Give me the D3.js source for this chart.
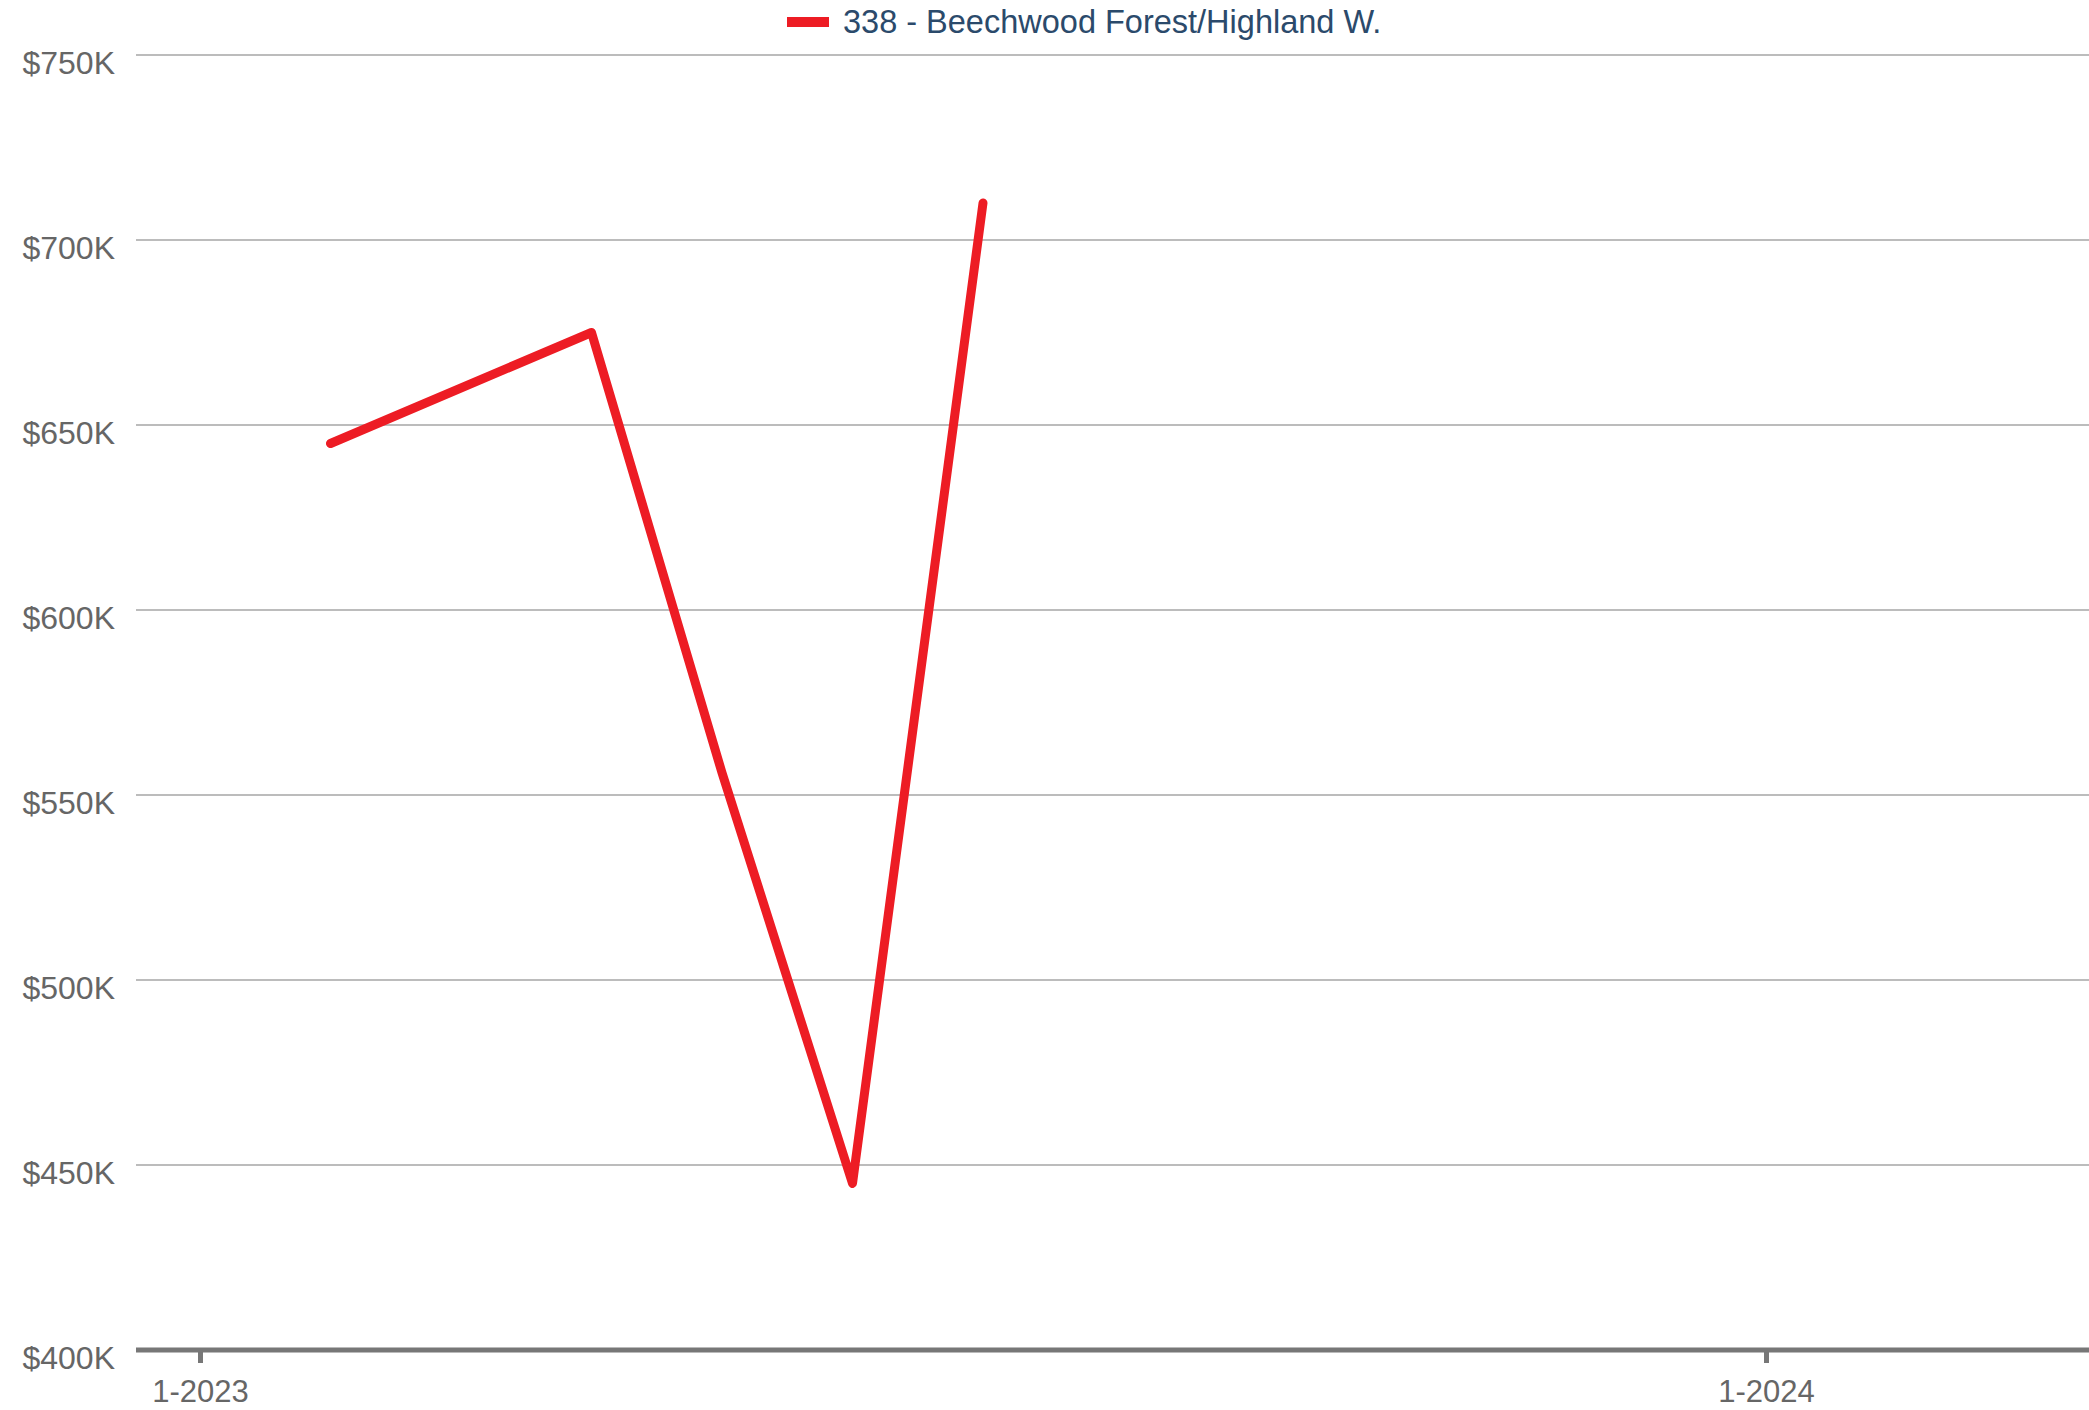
<!DOCTYPE html>
<html>
<head>
<meta charset="utf-8">
<script src="https://cdn.jsdelivr.net/npm/d3@7"></script>
<style>
  body { margin: 0; background: #fff; }
  svg { display: block; font-family: "Liberation Sans", Arial, sans-serif; }
</style>
</head>
<body>
<div id="chart"></div>
<script>
// data
const seriesName = "338 - Beechwood Forest/Highland W.";
const months = ["2023-02", "2023-04", "2023-05", "2023-06", "2023-07"];
const prices = [645000, 675000, 556000, 445000, 710000];
const yTicks = [400000, 450000, 500000, 550000, 600000, 650000, 700000, 750000];
const xTicks = ["2023-01", "2024-01"];

const width = 2089, height = 1410;
const plotLeft = 136, plotRight = 2089;

// month index from Jan 2023
const monthIndex = s => {
    const [y, m] = s.split("-").map(Number);
    return (y - 2023) * 12 + (m - 1);
};

const x = d3.scaleLinear().domain([0, 12]).range([200, 1766]);
const y = d3.scaleLinear().domain([400000, 750000]).range([1350, 55]);

const svg = d3.create("svg")
    .attr("width", width)
    .attr("height", height);

// gridlines
svg.append("g")
    .selectAll("line")
    .data(yTicks.filter(d => d > 400000))
    .join("line")
    .attr("x1", plotLeft)
    .attr("x2", plotRight)
    .attr("y1", d => y(d))
    .attr("y2", d => y(d))
    .attr("stroke", "#bcbcbc")
    .attr("stroke-width", 2);

// y labels
svg.append("g")
    .selectAll("text")
    .data(yTicks)
    .join("text")
    .attr("x", 115)
    .attr("y", d => y(d) + 19)
    .attr("text-anchor", "end")
    .attr("fill", "#666")
    .style("font-size", "32px")
    .text(d => "$" + d3.format("d")(d / 1000) + "K");

// x axis
const xAxis = d3.axisBottom(x)
    .tickValues(xTicks.map(monthIndex))
    .tickSize(13)
    .tickPadding(17)
    .tickFormat(i => `${(i % 12) + 1}-${2023 + Math.floor(i / 12)}`);

const gx = svg.append("g")
    .attr("transform", `translate(0,1350)`)
    .call(xAxis);
gx.select(".domain").remove();
gx.selectAll(".tick line").attr("stroke", "#777").attr("stroke-width", 5);
gx.selectAll(".tick text")
    .attr("fill", "#666")
    .style("font-size", "31px")
    .style("font-family", "Liberation Sans, Arial, sans-serif");
gx.append("line")
    .attr("x1", plotLeft)
    .attr("x2", plotRight)
    .attr("y1", 0)
    .attr("y2", 0)
    .attr("stroke", "#777")
    .attr("stroke-width", 5);

// series line
const line = d3.line()
    .x((d, i) => x(monthIndex(months[i])))
    .y(d => y(d));

svg.append("path")
    .datum(prices)
    .attr("d", line)
    .attr("fill", "none")
    .attr("stroke", "#ed1c24")
    .attr("stroke-width", 9)
    .attr("stroke-linejoin", "round")
    .attr("stroke-linecap", "round");

// legend
const legend = svg.append("g");
legend.append("rect")
    .attr("x", 787)
    .attr("y", 17)
    .attr("width", 42)
    .attr("height", 10)
    .attr("fill", "#ed1c24");
legend.append("text")
    .attr("x", 843)
    .attr("y", 33)
    .attr("fill", "#2b4a6b")
    .style("font-size", "32.5px")
    .text(seriesName);

document.getElementById("chart").appendChild(svg.node());
</script>
</body>
</html>
